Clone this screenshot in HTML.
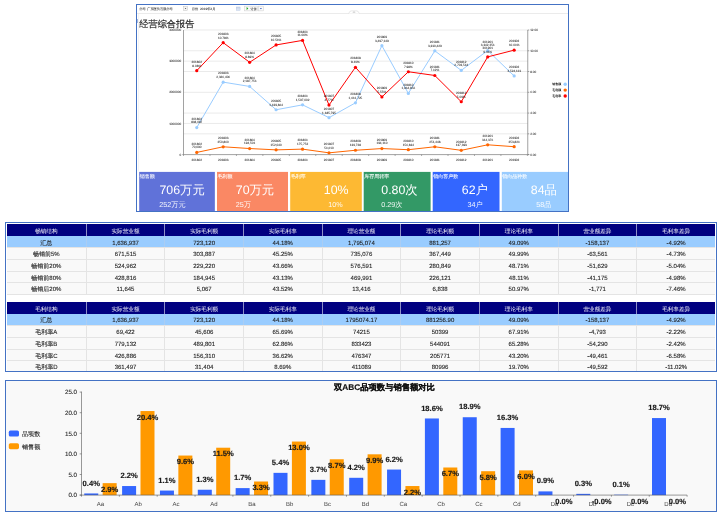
<!DOCTYPE html>
<html lang="zh">
<head>
<meta charset="utf-8">
<title>经营综合报告</title>
<style>
html,body{margin:0;padding:0;background:#fff;}
body{width:721px;height:516px;overflow:hidden;position:relative;text-rendering:geometricPrecision;font-family:"Liberation Sans",sans-serif;color:#333;}
.abs{position:absolute;}
.panel{position:absolute;box-sizing:border-box;border:1px solid #4472c4;background:#fff;}
#p1{left:136px;top:4px;width:433px;height:208px;overflow:hidden;}
#p2{left:5px;top:222px;width:712px;height:150px;}
#p3{left:5px;top:380px;width:712px;height:132px;background:#f9f9f9;}
/* toolbar */
.tb{position:absolute;font-size:3.2px;line-height:4px;color:#1e1e1e;-webkit-text-stroke:0.04px #1e1e1e;white-space:nowrap;}
.sep{position:absolute;left:137px;top:13px;width:431px;height:1px;background:#ebebeb;}
h1{position:absolute;margin:0;left:139.3px;top:17.6px;font-size:9.2px;line-height:12px;font-weight:normal;color:#1a1a1a;-webkit-text-stroke:0.15px #1a1a1a;white-space:nowrap;}
/* cards */
.card{position:absolute;top:172px;height:39.5px;color:#fff;overflow:hidden;}
.card .lb{position:absolute;left:0.5px;top:2.4px;font-size:5px;line-height:6px;white-space:nowrap;opacity:.93;-webkit-text-stroke:0.08px #fff;}
.card .big{position:absolute;top:10.9px;font-size:12.35px;line-height:15px;white-space:nowrap;}
.card .sub{position:absolute;top:28px;font-size:7.2px;line-height:9px;white-space:nowrap;opacity:.92;}
/* tables */
table{position:absolute;left:7px;width:708px;border-collapse:separate;border-spacing:0;table-layout:fixed;font-size:6px;line-height:6px;z-index:1;}
td,th{padding:0;vertical-align:top;text-align:center;font-weight:normal;white-space:nowrap;overflow:hidden;box-sizing:border-box;}
th{background:#000080;color:#fff;height:11.6px;padding-top:4.6px;border-left:1px solid #8d90c8;font-size:5.6px;}
th:first-child{border-left:none;}
td{height:11.6px;padding-top:4.1px;background:#f9f9f9;border-left:1px solid #e4e4e4;border-top:1px solid #e4e4e4;color:#1c1c1c;-webkit-text-stroke:0.1px #1c1c1c;}
td:first-child{border-left:none;}
tr.sum td{background:#99ccff;border-left-color:#aacdf3;border-top:none;padding-top:4.8px;}
#t1 tr:last-child td{border-bottom:1px solid #e4e4e4;height:12.6px;}
#t2 th,#t2 td{height:11.65px;}
#p2{z-index:2;background:transparent;}
#page{position:absolute;left:0;top:0;width:721px;height:516px;will-change:transform;}
</style>
</head>
<body>
<div id="page">
<div class="panel" id="p1"></div>
<div class="sep"></div>
<div class="tb" style="left:139.3px;top:6.7px;">公司</div>
<div class="tb" style="left:147.2px;top:6.7px;">广东医药有限公司</div>
<div class="tb" style="left:191.8px;top:6.7px;">月份</div>
<div class="tb" style="left:200.1px;top:6.7px;">2019年2月</div>
<svg class="abs" style="left:180px;top:4px;" width="90" height="9" viewBox="180 4 90 9"><rect x="183.7" y="6.6" width="3.7" height="3.7" fill="#f3f3f3" stroke="#b5b5b5" stroke-width="0.4"/><path d="M184.8 8 L186.3 8 L185.55 9.1Z" fill="#333"/><rect x="236.4" y="7" width="3.7" height="3.2" fill="#dbe4f3" stroke="#a9bbdd" stroke-width="0.4"/><path d="M236.4 7.9H240.1" stroke="#a9bbdd" stroke-width="0.4"/><rect x="244.4" y="6.1" width="13.2" height="4.8" fill="#fafafa" stroke="#c4c4c4" stroke-width="0.4"/><path d="M246.6 7.1 L248.3 8.5 L246.6 9.9Z" fill="#1fa51f"/><rect x="258.3" y="6.1" width="5.2" height="4.8" fill="#fafafa" stroke="#c4c4c4" stroke-width="0.4"/><path d="M259.9 8 L261.9 8 L260.9 9.3Z" fill="#2f55b5"/></svg>
<div class="tb" style="left:250.6px;top:6.7px;">计算</div>
<div class="abs" style="left:137.4px;top:19px;width:0.9px;height:4px;background:#a9b9dc;"></div>
<svg class="abs" style="left:348px;top:10px;" width="12" height="4" viewBox="0 0 12 4"><path d="M0.8 3.4 Q1.6 0.9 3.2 0.9 L8.8 0.9 Q10.4 0.9 11.2 3.4" fill="#fff" stroke="#d6d6d6" stroke-width="0.6"/><path d="M5 2.8 L6 1.7 L7 2.8" fill="none" stroke="#999" stroke-width="0.6"/></svg>
<div class="abs" style="left:138px;top:14px;width:1px;height:157px;background:#f4f4f4;"></div>
<h1>经营综合报告</h1>
<svg class="abs" style="left:0;top:0;" width="721" height="516" viewBox="0 0 721 516" font-family="Liberation Sans, sans-serif" text-rendering="geometricPrecision">
<g stroke="#dcdcdc" stroke-width="0.6" fill="none">
<path d="M183.5 30.0H527.75"/><path d="M183.5 50.77H527.75"/><path d="M183.5 61.15H527.75"/><path d="M183.5 71.53H527.75"/><path d="M183.5 92.3H527.75"/><path d="M183.5 113.07H527.75"/><path d="M183.5 123.45H527.75"/><path d="M183.5 133.83H527.75"/>
</g>
<g stroke="#7a7a7a" stroke-width="0.7" fill="none"><path d="M183.5 30.0V154.6"/><path d="M527.75 30.0V154.6"/><path d="M182.3 154.6H529.25"/><path d="M527.75 30.00H529.25"/><path d="M527.75 50.77H529.25"/><path d="M527.75 71.53H529.25"/><path d="M527.75 92.30H529.25"/><path d="M527.75 113.07H529.25"/><path d="M527.75 133.83H529.25"/><path d="M527.75 154.60H529.25"/><path d="M183.53 154.6V155.9"/><path d="M209.97 154.6V155.9"/><path d="M236.43 154.6V155.9"/><path d="M262.88 154.6V155.9"/><path d="M289.32 154.6V155.9"/><path d="M315.77 154.6V155.9"/><path d="M342.23 154.6V155.9"/><path d="M368.68 154.6V155.9"/><path d="M395.12 154.6V155.9"/><path d="M421.57 154.6V155.9"/><path d="M448.02 154.6V155.9"/><path d="M474.48 154.6V155.9"/><path d="M500.92 154.6V155.9"/><path d="M527.38 154.6V155.9"/></g>
<g font-size="3.1" fill="#222" stroke="#222" stroke-width="0.03">
<g text-anchor="end"><text x="181.2" y="31.10">4000000</text><text x="181.2" y="62.25">3000000</text><text x="181.2" y="93.40">2000000</text><text x="181.2" y="124.55">1000000</text><text x="181.2" y="155.70">0</text></g>
<g text-anchor="start"><text x="530.15" y="31.10">12.00</text><text x="530.15" y="51.87">10.00</text><text x="530.15" y="72.63">8.00</text><text x="530.15" y="93.40">6.00</text><text x="530.15" y="114.17">4.00</text><text x="530.15" y="134.93">2.00</text><text x="530.15" y="155.70">0.00</text></g>
<g text-anchor="middle"><text x="196.75" y="160.7">201802</text><text x="223.20" y="160.7">201803</text><text x="249.65" y="160.7">201804</text><text x="276.10" y="160.7">201805</text><text x="302.55" y="160.7">201806</text><text x="329.00" y="160.7">201807</text><text x="355.45" y="160.7">201808</text><text x="381.90" y="160.7">201809</text><text x="408.35" y="160.7">201810</text><text x="434.80" y="160.7">201811</text><text x="461.25" y="160.7">201812</text><text x="487.70" y="160.7">201901</text><text x="514.15" y="160.7">201902</text></g>
</g>
<path d="M196.75 127.56L223.20 82.13L249.65 86.45L276.10 109.75L302.55 104.85L329.00 117.66L355.45 102.84L381.90 45.66L408.35 93.39L434.80 50.86L461.25 70.38L487.70 50.49L514.15 75.97" fill="none" stroke="#99ccff" stroke-width="1.0" stroke-linejoin="round"/>
<g fill="#99ccff"><circle cx="196.75" cy="127.56" r="1.6"/><circle cx="223.20" cy="82.13" r="1.6"/><circle cx="249.65" cy="86.45" r="1.6"/><circle cx="276.10" cy="109.75" r="1.6"/><circle cx="302.55" cy="104.85" r="1.6"/><circle cx="329.00" cy="117.66" r="1.6"/><circle cx="355.45" cy="102.84" r="1.6"/><circle cx="381.90" cy="45.66" r="1.6"/><circle cx="408.35" cy="93.39" r="1.6"/><circle cx="434.80" cy="50.86" r="1.6"/><circle cx="461.25" cy="70.38" r="1.6"/><circle cx="487.70" cy="50.49" r="1.6"/><circle cx="514.15" cy="75.97" r="1.6"/></g>
<path d="M196.75 152.42L223.20 146.79L249.65 148.54L276.10 149.86L302.55 149.13L329.00 152.84L355.45 150.25L381.90 148.55L408.35 149.71L434.80 146.77L461.25 150.32L487.70 144.81L514.15 146.69" fill="none" stroke="#ff6600" stroke-width="1.0" stroke-linejoin="round"/>
<g fill="#ff6600"><circle cx="196.75" cy="152.42" r="1.6"/><circle cx="223.20" cy="146.79" r="1.6"/><circle cx="249.65" cy="148.54" r="1.6"/><circle cx="276.10" cy="149.86" r="1.6"/><circle cx="302.55" cy="149.13" r="1.6"/><circle cx="329.00" cy="152.84" r="1.6"/><circle cx="355.45" cy="150.25" r="1.6"/><circle cx="381.90" cy="148.55" r="1.6"/><circle cx="408.35" cy="149.71" r="1.6"/><circle cx="434.80" cy="146.77" r="1.6"/><circle cx="461.25" cy="150.32" r="1.6"/><circle cx="487.70" cy="144.81" r="1.6"/><circle cx="514.15" cy="146.69" r="1.6"/></g>
<path d="M196.75 70.70L223.20 42.67L249.65 62.29L276.10 44.95L302.55 40.38L329.00 105.07L355.45 67.28L381.90 96.97L408.35 71.74L434.80 75.48L461.25 101.75L487.70 56.89L514.15 50.14" fill="none" stroke="#ff0000" stroke-width="1.0" stroke-linejoin="round"/>
<g fill="#ff0000"><circle cx="196.75" cy="70.70" r="1.6"/><circle cx="223.20" cy="42.67" r="1.6"/><circle cx="249.65" cy="62.29" r="1.6"/><circle cx="276.10" cy="44.95" r="1.6"/><circle cx="302.55" cy="40.38" r="1.6"/><circle cx="329.00" cy="105.07" r="1.6"/><circle cx="355.45" cy="67.28" r="1.6"/><circle cx="381.90" cy="96.97" r="1.6"/><circle cx="408.35" cy="71.74" r="1.6"/><circle cx="434.80" cy="75.48" r="1.6"/><circle cx="461.25" cy="101.75" r="1.6"/><circle cx="487.70" cy="56.89" r="1.6"/><circle cx="514.15" cy="50.14" r="1.6"/></g>
<g font-size="3.1" fill="#222" stroke="#222" stroke-width="0.03" text-anchor="middle">
<text x="196.75" y="119.76">201802</text><text x="196.75" y="123.41">868,087</text><text x="223.20" y="74.33">201803</text><text x="223.20" y="77.98">2,326,406</text><text x="249.65" y="78.65">201804</text><text x="249.65" y="82.30">2,187,756</text><text x="276.10" y="101.95">201805</text><text x="276.10" y="105.60">1,439,864</text><text x="302.55" y="97.05">201806</text><text x="302.55" y="100.70">1,597,002</text><text x="329.00" y="109.86">201807</text><text x="329.00" y="113.51">1,185,795</text><text x="355.45" y="95.04">201808</text><text x="355.45" y="98.69">1,661,725</text><text x="381.90" y="37.86">201809</text><text x="381.90" y="41.51">3,497,149</text><text x="408.35" y="85.59">201810</text><text x="408.35" y="89.24">1,964,856</text><text x="434.80" y="43.06">201811</text><text x="434.80" y="46.71">3,330,429</text><text x="461.25" y="62.58">201812</text><text x="461.25" y="66.23">2,703,544</text><text x="487.70" y="42.69">201901</text><text x="487.70" y="46.34">3,342,256</text><text x="514.15" y="68.17">201902</text><text x="514.15" y="71.82">2,524,113</text>
<text x="196.75" y="144.62">201802</text><text x="196.75" y="148.27">70,090</text><text x="223.20" y="138.99">201803</text><text x="223.20" y="142.64">250,860</text><text x="249.65" y="140.74">201804</text><text x="249.65" y="144.39">194,501</text><text x="276.10" y="142.06">201805</text><text x="276.10" y="145.71">152,040</text><text x="302.55" y="141.33">201806</text><text x="302.55" y="144.98">175,752</text><text x="329.00" y="145.04">201807</text><text x="329.00" y="148.69">56,610</text><text x="355.45" y="142.45">201808</text><text x="355.45" y="146.10">139,728</text><text x="381.90" y="140.75">201809</text><text x="381.90" y="144.40">194,110</text><text x="408.35" y="141.91">201810</text><text x="408.35" y="145.56">156,834</text><text x="434.80" y="138.97">201811</text><text x="434.80" y="142.62">251,448</text><text x="461.25" y="142.52">201812</text><text x="461.25" y="146.17">137,393</text><text x="487.70" y="137.01">201901</text><text x="487.70" y="140.66">314,376</text><text x="514.15" y="138.89">201902</text><text x="514.15" y="142.54">253,826</text>
<text x="196.75" y="62.90">201802</text><text x="196.75" y="66.55">8.08%</text><text x="223.20" y="34.87">201803</text><text x="223.20" y="38.52">10.78%</text><text x="249.65" y="54.49">201804</text><text x="249.65" y="58.14">8.89%</text><text x="276.10" y="37.15">201805</text><text x="276.10" y="40.80">10.56%</text><text x="302.55" y="32.58">201806</text><text x="302.55" y="36.23">11.00%</text><text x="329.00" y="97.27">201807</text><text x="329.00" y="100.92">4.77%</text><text x="355.45" y="59.48">201808</text><text x="355.45" y="63.13">8.41%</text><text x="381.90" y="89.17">201809</text><text x="381.90" y="92.82">5.55%</text><text x="408.35" y="63.94">201810</text><text x="408.35" y="67.59">7.98%</text><text x="434.80" y="67.68">201811</text><text x="434.80" y="71.33">7.62%</text><text x="461.25" y="93.95">201812</text><text x="461.25" y="97.60">5.09%</text><text x="487.70" y="49.09">201901</text><text x="487.70" y="52.74">9.41%</text><text x="514.15" y="42.34">201902</text><text x="514.15" y="45.99">10.06%</text>
</g>
<g font-size="3" fill="#222" text-anchor="end" font-weight="bold"><text x="561.3" y="85.35">销售额</text><circle cx="565.2" cy="84.25" r="1.7" fill="#99ccff"/><text x="561.3" y="91.20">毛利额</text><circle cx="565.2" cy="90.1" r="1.7" fill="#ff6600"/><text x="561.3" y="97.10">毛利率</text><circle cx="565.2" cy="96.0" r="1.7" fill="#ff0000"/></g>
</svg>
<svg class="abs" style="left:0;top:0;" width="721" height="516" viewBox="0 0 721 516"><rect x="139.2" y="171.9" width="75.65" height="39.1" fill="#6072d9"/><rect x="217.0" y="171.9" width="71.00" height="39.1" fill="#fa8864"/><rect x="290.2" y="171.9" width="71.60" height="39.1" fill="#fdb933"/><rect x="363.7" y="171.9" width="66.90" height="39.1" fill="#339966"/><rect x="432.7" y="171.9" width="66.80" height="39.1" fill="#3366ff"/><rect x="501.8" y="171.9" width="66.20" height="39.1" fill="#99ccff"/></svg>
<div class="card" style="left:139.2px;width:75.65px;"><div class="lb">销售额</div><div class="big" style="left:20.30px;">706万元</div><div class="sub" style="left:20.10px;">252万元</div></div>
<div class="card" style="left:217.0px;width:71.00px;"><div class="lb">毛利额</div><div class="big" style="left:18.80px;">70万元</div><div class="sub" style="left:18.80px;">25万</div></div>
<div class="card" style="left:290.2px;width:71.60px;"><div class="lb">毛利率</div><div class="big" style="left:33.60px;">10%</div><div class="sub" style="left:38.10px;">10%</div></div>
<div class="card" style="left:363.7px;width:66.90px;"><div class="lb">库存周转率</div><div class="big" style="left:17.60px;">0.80次</div><div class="sub" style="left:17.60px;">0.29次</div></div>
<div class="card" style="left:432.7px;width:66.80px;"><div class="lb">销向客户数</div><div class="big" style="left:29.10px;">62户</div><div class="sub" style="left:34.80px;">34户</div></div>
<div class="card" style="left:501.8px;width:66.20px;"><div class="lb">销向品种数</div><div class="big" style="left:29.00px;">84品</div><div class="sub" style="left:34.50px;">58品</div></div>
<div class="panel" id="p2"></div>
<table id="t1" style="top:224.2px;">
<tr><th>畅销结构</th><th>实际营业额</th><th>实际毛利额</th><th>实际毛利率</th><th>理论营业额</th><th>理论毛利额</th><th>理论毛利率</th><th>营业额差异</th><th>毛利率差异</th></tr>
<tr class="sum"><td>汇总</td><td>1,636,937</td><td>723,120</td><td>44.18%</td><td>1,795,074</td><td>881,257</td><td>49.09%</td><td>-158,137</td><td>-4.92%</td></tr>
<tr><td>畅销前5%</td><td>671,515</td><td>303,887</td><td>45.25%</td><td>735,076</td><td>367,449</td><td>49.99%</td><td>-63,561</td><td>-4.73%</td></tr>
<tr><td>畅销前20%</td><td>524,962</td><td>229,220</td><td>43.66%</td><td>576,591</td><td>280,849</td><td>48.71%</td><td>-51,629</td><td>-5.04%</td></tr>
<tr><td>畅销前80%</td><td>428,816</td><td>184,945</td><td>43.13%</td><td>469,991</td><td>226,121</td><td>48.11%</td><td>-41,175</td><td>-4.98%</td></tr>
<tr><td>畅销后20%</td><td>11,645</td><td>5,067</td><td>43.52%</td><td>13,416</td><td>6,838</td><td>50.97%</td><td>-1,771</td><td>-7.46%</td></tr>
</table>
<table id="t2" style="top:302.0px;">
<tr><th>毛利结构</th><th>实际营业额</th><th>实际毛利额</th><th>实际毛利率</th><th>理论营业额</th><th>理论毛利额</th><th>理论毛利率</th><th>营业额差异</th><th>毛利率差异</th></tr>
<tr class="sum"><td>汇总</td><td>1,636,937</td><td>723,120</td><td>44.18%</td><td>1795074.17</td><td>881256.90</td><td>49.09%</td><td>-158,137</td><td>-4.92%</td></tr>
<tr><td>毛利率A</td><td>69,422</td><td>45,606</td><td>65.69%</td><td>74215</td><td>50399</td><td>67.91%</td><td>-4,793</td><td>-2.22%</td></tr>
<tr><td>毛利率B</td><td>779,132</td><td>489,801</td><td>62.86%</td><td>833423</td><td>544091</td><td>65.28%</td><td>-54,290</td><td>-2.42%</td></tr>
<tr><td>毛利率C</td><td>426,886</td><td>156,310</td><td>36.62%</td><td>476347</td><td>205771</td><td>43.20%</td><td>-49,461</td><td>-6.58%</td></tr>
<tr><td>毛利率D</td><td>361,497</td><td>31,404</td><td>8.69%</td><td>411089</td><td>80996</td><td>19.70%</td><td>-49,592</td><td>-11.02%</td></tr>
</table>
<div class="panel" id="p3"></div>
<svg class="abs" style="left:0;top:0;" width="721" height="516" viewBox="0 0 721 516" font-family="Liberation Sans, sans-serif" text-rendering="geometricPrecision">
<text x="384.4" y="389.6" font-size="8.3" font-weight="bold" fill="#111" stroke="#111" stroke-width="0.15" text-anchor="middle">双ABC品项数与销售额对比</text>
<rect x="8.8" y="430.6" width="10.2" height="6" rx="1.6" fill="#3366ff"/><text x="22" y="436" font-size="6.1" fill="#2a2a2a" stroke="#2a2a2a" stroke-width="0.12">品项数</text>
<rect x="8.8" y="443.2" width="10.2" height="6" rx="1.6" fill="#ff9900"/><text x="22" y="448.6" font-size="6.1" fill="#2a2a2a" stroke="#2a2a2a" stroke-width="0.12">销售额</text>
<g font-size="6" fill="#444" text-anchor="middle"><text x="100.42" y="506.2">Aa</text><text x="138.28" y="506.2">Ab</text><text x="176.12" y="506.2">Ac</text><text x="213.97" y="506.2">Ad</text><text x="251.83" y="506.2">Ba</text><text x="289.68" y="506.2">Bb</text><text x="327.52" y="506.2">Bc</text><text x="365.38" y="506.2">Bd</text><text x="403.23" y="506.2">Ca</text><text x="441.07" y="506.2">Cb</text><text x="478.93" y="506.2">Cc</text><text x="516.78" y="506.2">Cd</text><text x="554.62" y="506.2">Da</text><text x="592.48" y="506.2">Db</text><text x="630.33" y="506.2">Dc</text><text x="668.18" y="506.2">Dd</text></g>
<g fill="#3366ff"><rect x="84.25" y="493.45" width="14.0" height="1.65"/><rect x="122.10" y="486.04" width="14.0" height="9.06"/><rect x="159.95" y="490.57" width="14.0" height="4.53"/><rect x="197.80" y="489.74" width="14.0" height="5.36"/><rect x="235.65" y="488.10" width="14.0" height="7.00"/><rect x="273.50" y="472.85" width="14.0" height="22.25"/><rect x="311.35" y="479.86" width="14.0" height="15.24"/><rect x="349.20" y="477.80" width="14.0" height="17.30"/><rect x="387.05" y="469.56" width="14.0" height="25.54"/><rect x="424.90" y="418.47" width="14.0" height="76.63"/><rect x="462.75" y="417.23" width="14.0" height="77.87"/><rect x="500.60" y="427.94" width="14.0" height="67.16"/><rect x="538.45" y="491.39" width="14.0" height="3.71"/><rect x="576.30" y="493.86" width="14.0" height="1.24"/><rect x="614.15" y="494.69" width="14.0" height="0.41"/><rect x="652.00" y="418.06" width="14.0" height="77.04"/></g>
<g fill="#ff9900"><rect x="102.65" y="483.15" width="14.0" height="11.95"/><rect x="140.50" y="411.05" width="14.0" height="84.05"/><rect x="178.35" y="455.55" width="14.0" height="39.55"/><rect x="216.20" y="447.72" width="14.0" height="47.38"/><rect x="254.05" y="481.50" width="14.0" height="13.60"/><rect x="291.90" y="441.54" width="14.0" height="53.56"/><rect x="329.75" y="459.26" width="14.0" height="35.84"/><rect x="367.60" y="454.31" width="14.0" height="40.79"/><rect x="405.45" y="486.04" width="14.0" height="9.06"/><rect x="443.30" y="467.50" width="14.0" height="27.60"/><rect x="481.15" y="471.20" width="14.0" height="23.90"/><rect x="519.00" y="470.38" width="14.0" height="24.72"/></g>
<g stroke="#555" stroke-width="0.6" fill="none"><path d="M81.5 391.6V496.70000000000005"/><path d="M79.7 495.1H687.10"/><path d="M79.7 495.10H81.5"/><path d="M79.7 474.50H81.5"/><path d="M79.7 453.90H81.5"/><path d="M79.7 433.30H81.5"/><path d="M79.7 412.70H81.5"/><path d="M79.7 392.10H81.5"/><path d="M119.35 495.1V496.70000000000005"/><path d="M157.20 495.1V496.70000000000005"/><path d="M195.05 495.1V496.70000000000005"/><path d="M232.90 495.1V496.70000000000005"/><path d="M270.75 495.1V496.70000000000005"/><path d="M308.60 495.1V496.70000000000005"/><path d="M346.45 495.1V496.70000000000005"/><path d="M384.30 495.1V496.70000000000005"/><path d="M422.15 495.1V496.70000000000005"/><path d="M460.00 495.1V496.70000000000005"/><path d="M497.85 495.1V496.70000000000005"/><path d="M535.70 495.1V496.70000000000005"/><path d="M573.55 495.1V496.70000000000005"/><path d="M611.40 495.1V496.70000000000005"/><path d="M649.25 495.1V496.70000000000005"/><path d="M687.10 495.1V496.70000000000005"/></g>
<g font-size="6.2" fill="#2a2a2a" stroke="#2a2a2a" stroke-width="0.12" text-anchor="end"><text x="77.0" y="497.30">0.0</text><text x="77.0" y="476.70">5.0</text><text x="77.0" y="456.10">10.0</text><text x="77.0" y="435.50">15.0</text><text x="77.0" y="414.90">20.0</text><text x="77.0" y="394.30">25.0</text></g>
<g font-size="7.6" font-weight="bold" fill="#1a1a1a" stroke="#1a1a1a" stroke-width="0.15" text-anchor="middle"><text x="91.25" y="485.55">0.4%</text><text x="129.10" y="478.14">2.2%</text><text x="166.95" y="482.67">1.1%</text><text x="204.80" y="481.84">1.3%</text><text x="242.65" y="480.20">1.7%</text><text x="280.50" y="464.95">5.4%</text><text x="318.35" y="471.96">3.7%</text><text x="356.20" y="469.90">4.2%</text><text x="394.05" y="461.66">6.2%</text><text x="431.90" y="410.57">18.6%</text><text x="469.75" y="409.33">18.9%</text><text x="507.60" y="420.04">16.3%</text><text x="545.45" y="483.49">0.9%</text><text x="583.30" y="485.96">0.3%</text><text x="621.15" y="486.79">0.1%</text><text x="659.00" y="410.16">18.7%</text><text x="109.65" y="491.65">2.9%</text><text x="147.50" y="419.55">20.4%</text><text x="185.35" y="464.05">9.6%</text><text x="223.20" y="456.22">11.5%</text><text x="261.05" y="490.00">3.3%</text><text x="298.90" y="450.04">13.0%</text><text x="336.75" y="467.76">8.7%</text><text x="374.60" y="462.81">9.9%</text><text x="412.45" y="494.54">2.2%</text><text x="450.30" y="476.00">6.7%</text><text x="488.15" y="479.70">5.8%</text><text x="526.00" y="478.88">6.0%</text><text x="563.85" y="503.60">0.0%</text><text x="601.70" y="503.60">-0.0%</text><text x="639.55" y="503.60">0.0%</text><text x="677.40" y="503.60">0.0%</text></g>
</svg>
</div>
</body>
</html>
